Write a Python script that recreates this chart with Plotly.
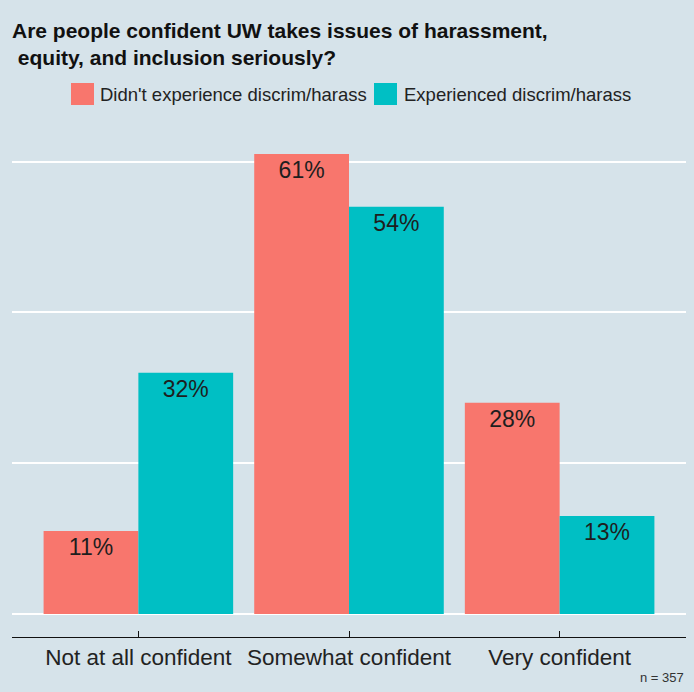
import plotly.graph_objects as go

categories = ["Not at all confident", "Somewhat confident", "Very confident"]
no_exp = [11, 61, 28]
exp = [32, 54, 13]
series_names = ["Didn't experience discrim/harass", "Experienced discrim/harass"]
colors = ["#F8766D", "#00BFC4"]
grid_vals = [0, 20, 40, 60]

W, H = 694, 692
L, R, T, B = 12, 8, 131, 55
BG = "#d6e3ea"
FONT = "Liberation Sans, Arial, sans-serif"


def px_x(p):
    return (p - L) / (W - L - R)


def px_y(p):
    return (H - B - p) / (H - T - B)


fig = go.Figure()
for name, vals, col in zip(series_names, [no_exp, exp], colors):
    fig.add_trace(go.Bar(
        x=categories, y=vals, name=name, marker=dict(color=col, line=dict(width=0)),
        text=[f"{v}%" for v in vals], textposition="inside", insidetextanchor="end",
        textfont=dict(size=23, color="#1e1e1e", family=FONT), constraintext="none",
        showlegend=False, hoverinfo="skip",
    ))

ymax = max(no_exp + exp)
pad = ymax * 0.05

fig.update_layout(
    width=W, height=H,
    margin=dict(l=L, r=R, t=T, b=B),
    paper_bgcolor=BG, plot_bgcolor=BG,
    barmode="group", bargap=0.1, bargroupgap=0,
    font=dict(family=FONT, color="#222222"),
    title=dict(
        text="Are people confident UW takes issues of harassment,<br>\u00a0equity, and inclusion seriously?",
        font=dict(size=21, family=FONT, color="#111111", weight="bold"),
        x=L / W, xanchor="left", xref="container",
        y=1 - 38 / H, yanchor="top", yref="container",
    ),
    xaxis=dict(
        range=[-0.6, len(categories) - 0.4],
        showline=True, linecolor="#111111", linewidth=1,
        ticks="inside", ticklen=6, tickcolor="#111111", tickwidth=1,
        tickfont=dict(size=22.5, color="#222222", family=FONT),
        showgrid=False, zeroline=False, ticklabelstandoff=0,
    ),
    yaxis=dict(
        range=[-pad, ymax + pad],
        tickvals=grid_vals, showticklabels=False,
        showgrid=True, gridcolor="white", gridwidth=2,
        zeroline=False, showline=False,
    ),
)

# legend keys and labels
legend_keys = [(71, 94, 98), (374, 397, 402)]
for (x0, x1, tx), name, col in zip(legend_keys, series_names, colors):
    fig.add_shape(type="rect", xref="paper", yref="paper",
                  x0=px_x(x0), x1=px_x(x1), y0=px_y(105), y1=px_y(83),
                  fillcolor=col, line=dict(width=0), layer="above")
    fig.add_annotation(text=name, xref="paper", yref="paper",
                       x=px_x(tx), y=px_y(95), xanchor="left", yanchor="middle",
                       showarrow=False, font=dict(size=18.5, color="#222222", family=FONT))

fig.add_annotation(text="n = 357", xref="paper", yref="paper",
                   x=px_x(686), y=px_y(677), xanchor="right", yanchor="middle",
                   showarrow=False, font=dict(size=13, color="#333333", family=FONT))

fig.write_html("out.html")
